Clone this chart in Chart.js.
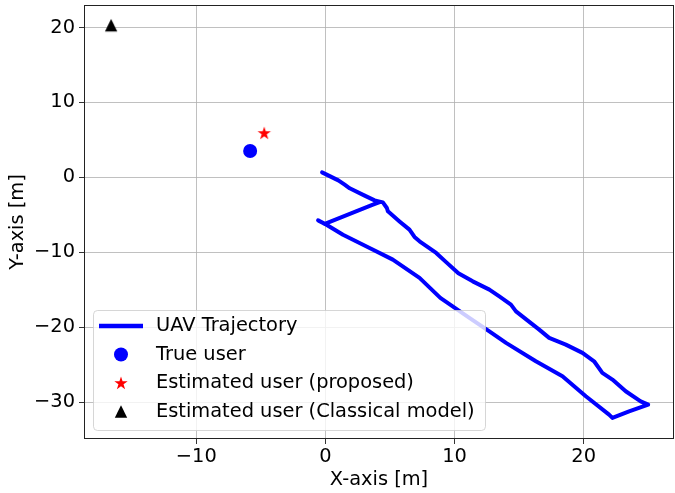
<!DOCTYPE html>
<html>
<head>
<meta charset="utf-8">
<script src="https://cdn.jsdelivr.net/npm/chart.js@4.4.1/dist/chart.umd.min.js"></script>
<style>
  body { margin: 0; background: #fff; }
</style>
</head>
<body>
<canvas id="chart" width="675" height="493"></canvas>
<script>
// UAV trajectory (metres)
const trajX = [-0.26, 1.0, 1.49, 1.88, 3.0, 3.81, 4.45, 4.76, 4.84, 5.74, 6.51, 6.9, 7.29, 8.58, 9.35,
  10.3, 11.41, 12.7, 13.47, 14.37, 14.76, 16.56, 17.33, 18.62, 19.91, 20.81, 21.45, 22.23, 23.26, 24.42, 25.0,
  23.52, 22.23, 21.97, 20.17, 18.36, 16.3, 13.99, 12.7, 11.15, 8.9, 7.29, 5.22, 3.42, 1.36, 0.08, -0.57,
  -0.05, 3.68, 4.2];
const trajY = [0.67, -0.4, -0.97, -1.45, -2.4, -3.07, -3.33, -4.08, -4.53, -5.87, -6.97, -7.95, -8.53, -10.08, -11.3,
  -12.8, -13.87, -14.97, -15.87, -16.97, -17.87, -20.31, -21.41, -22.31, -23.41, -24.53, -26.08, -26.97, -28.53, -29.87, -30.31,
  -31.2, -32.08, -31.64, -29.2, -26.53, -24.53, -22.08, -20.53, -18.75, -16.08, -13.41, -10.97, -9.41, -7.64, -6.31, -5.73,
  -6.2, -3.64, -3.3];

const trueUser = [-5.83, 3.52];
const estProposed = [-4.74, 5.92];
const estClassical = [-16.6, 20.3];

const legendLabels = ['UAV Trajectory', 'True user', 'Estimated user (proposed)', 'Estimated user (Classical model)'];
const xTicks = [-10, 0, 10, 20];
const yTicks = [-30, -20, -10, 0, 10, 20];

const FONT = 'DejaVu Sans';
const FS = 19.4;

function starPath(ctx, cx, cy, R) {
  const r = R * 0.382;
  ctx.beginPath();
  for (let i = 0; i < 10; i++) {
    const a = -Math.PI / 2 + i * Math.PI / 5;
    const rr = i % 2 === 0 ? R : r;
    const px = cx + rr * Math.cos(a), py = cy + rr * Math.sin(a);
    if (i === 0) ctx.moveTo(px, py); else ctx.lineTo(px, py);
  }
  ctx.closePath();
}

function triPath(ctx, cx, cy, h) {
  ctx.beginPath();
  ctx.moveTo(cx, cy - h);
  ctx.lineTo(cx - h, cy + h);
  ctx.lineTo(cx + h, cy + h);
  ctx.closePath();
}

function makeMarker(kind, color) {
  const c = document.createElement('canvas');
  c.width = 16; c.height = 16;
  const g = c.getContext('2d');
  g.fillStyle = color;
  if (kind === 'star') starPath(g, 8, 8.5, 7);
  else triPath(g, 8, 8, 6.2);
  g.fill();
  return c;
}

const frameAndLegend = {
  id: 'frameAndLegend',
  afterDraw(chart) {
    const ctx = chart.ctx;
    const a = chart.chartArea;
    ctx.save();
    // axes frame
    ctx.strokeStyle = '#222';
    ctx.lineWidth = 1;
    ctx.strokeRect(a.left + 0.5, a.top + 0.5, a.right - a.left - 1, a.bottom - a.top - 1);

    // legend box
    const bx = 93.5, by = 310.5, bw = 392, bh = 120, rad = 4;
    ctx.beginPath();
    ctx.roundRect(bx, by, bw, bh, rad);
    ctx.fillStyle = 'rgba(255,255,255,0.8)';
    ctx.fill();
    ctx.strokeStyle = 'rgba(204,204,204,0.8)';
    ctx.lineWidth = 1;
    ctx.stroke();

    const rowY = [326, 354.5, 383, 411.5];
    const textX = 156, symX = 121;
    // line sample
    ctx.strokeStyle = '#0000ff';
    ctx.lineWidth = 4.5;
    ctx.beginPath();
    ctx.moveTo(99, rowY[0]);
    ctx.lineTo(143, rowY[0]);
    ctx.stroke();
    // circle
    ctx.fillStyle = '#0000ff';
    ctx.beginPath();
    ctx.arc(symX, rowY[1], 7, 0, Math.PI * 2);
    ctx.fill();
    // star
    ctx.fillStyle = '#ff0000';
    starPath(ctx, symX, rowY[2] + 0.5, 7);
    ctx.fill();
    // triangle
    ctx.fillStyle = '#000';
    triPath(ctx, symX, rowY[3], 6.2);
    ctx.fill();

    ctx.fillStyle = '#000';
    ctx.font = FS + 'px "' + FONT + '"';
    ctx.textBaseline = 'middle';
    ctx.textAlign = 'left';
    legendLabels.forEach((t, i) => ctx.fillText(t, textX, rowY[i]));
    ctx.restore();
  }
};

const minusFmt = v => String(v).replace('-', '\u2212');
const noPad = s => { s.paddingLeft = 0; s.paddingRight = 0; s.paddingTop = 0; s.paddingBottom = 0; };

new Chart(document.getElementById('chart'), {
  type: 'scatter',
  data: {
    datasets: [
      {
        label: legendLabels[0],
        data: trajX.map((x, i) => ({ x: x, y: trajY[i] })),
        showLine: true,
        borderColor: '#0000ff',
        borderWidth: 4,
        borderCapStyle: 'round',
        borderJoinStyle: 'round',
        pointRadius: 0,
        tension: 0
      },
      {
        label: legendLabels[1],
        data: [{ x: trueUser[0], y: trueUser[1] }],
        pointStyle: 'circle',
        pointRadius: 7,
        backgroundColor: '#0000ff',
        borderWidth: 0
      },
      {
        label: legendLabels[2],
        data: [{ x: estProposed[0], y: estProposed[1] }],
        pointStyle: makeMarker('star', '#ff0000'),
        pointRadius: 8
      },
      {
        label: legendLabels[3],
        data: [{ x: estClassical[0], y: estClassical[1] }],
        pointStyle: makeMarker('tri', '#000000'),
        pointRadius: 8
      }
    ]
  },
  options: {
    responsive: false,
    animation: false,
    layout: { autoPadding: false, padding: { top: 5, right: 1, left: 0, bottom: 0 } },
    plugins: { legend: { display: false }, tooltip: { enabled: false } },
    scales: {
      x: {
        type: 'linear',
        min: -18.7,
        max: 27.0,
        afterBuildTicks: s => { s.ticks = xTicks.map(v => ({ value: v })); },
        afterFit: s => { s.height = 54; noPad(s); },
        grid: { color: '#b0b0b0', lineWidth: 0.8, tickLength: 5, tickColor: '#000', drawTicks: true },
        border: { display: false },
        ticks: { color: '#000', font: { family: FONT, size: FS }, padding: 1, maxRotation: 0, callback: minusFmt },
        title: { display: true, text: 'X-axis [m]', color: '#000', font: { family: FONT, size: FS }, padding: { top: 0, bottom: 1 } }
      },
      y: {
        type: 'linear',
        min: -34.9,
        max: 23.0,
        afterBuildTicks: s => { s.ticks = yTicks.map(v => ({ value: v })); },
        afterFit: s => { s.width = 84; noPad(s); },
        grid: { color: '#b0b0b0', lineWidth: 0.8, tickLength: 5, tickColor: '#000', drawTicks: true },
        border: { display: false },
        ticks: { color: '#000', font: { family: FONT, size: FS }, padding: 4, callback: minusFmt },
        title: { display: true, text: 'Y-axis [m]', color: '#000', font: { family: FONT, size: FS }, padding: { top: 6, bottom: 0 } }
      }
    }
  },
  plugins: [frameAndLegend]
});
</script>
</body>
</html>
